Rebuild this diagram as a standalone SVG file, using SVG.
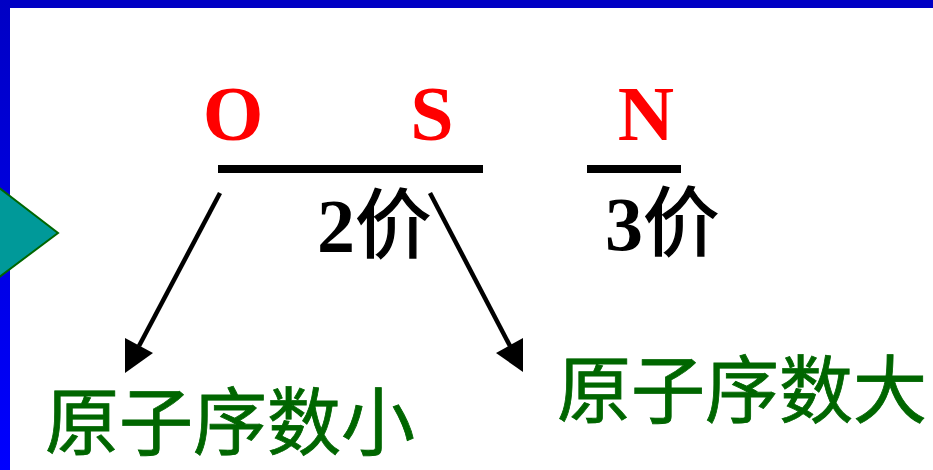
<svg xmlns="http://www.w3.org/2000/svg" width="933" height="470" viewBox="0 0 933 470">
<defs>
<style>
.el{font-family:"Liberation Serif","Times New Roman",serif;font-weight:bold;font-size:78px;fill:#ff0000;text-anchor:middle}
.val{font-family:"Liberation Serif","Noto Sans CJK SC",serif;font-weight:bold;font-size:76px;fill:#000}
.cj{font-family:"Noto Sans CJK SC",sans-serif;font-weight:normal;stroke:#000;stroke-width:1.4}
.lbl{font-family:"Noto Sans CJK SC","Noto Sans",sans-serif;font-weight:normal;font-size:74px;fill:#006600;stroke:#006600;stroke-width:0.8}
.bar{stroke:#000;stroke-width:8}
.arr{stroke:#000;stroke-width:4.5;fill:none}
</style>
<linearGradient id="lb" x1="0" y1="0" x2="0" y2="1">
<stop offset="0" stop-color="#0000c4"/>
<stop offset="1" stop-color="#0000ff"/>
</linearGradient>
</defs>
<rect x="0" y="0" width="933" height="470" fill="#ffffff"/>
<rect x="0" y="0" width="933" height="8" fill="#0000c4"/>
<rect x="0" y="0" width="10" height="470" fill="url(#lb)"/>
<polygon points="-2,187 58,233 -2,278" fill="#009999" stroke="#006600" stroke-width="2"/>
<g id="O"><text class="el" x="233" y="140">O</text></g>
<g id="S"><text class="el" x="432" y="140">S</text></g>
<g id="N"><text class="el" x="646" y="140">N</text></g>
<g id="bar-OS"><line class="bar" x1="218" y1="169" x2="483" y2="169"/></g>
<g id="bar-N"><line class="bar" x1="587" y1="169" x2="681" y2="169"/></g>
<g id="v2"><text class="val" x="317" y="252">2<tspan class="cj">价</tspan></text></g>
<g id="v3"><text class="val" x="605" y="250">3<tspan class="cj">价</tspan></text></g>
<g id="small"><text class="lbl" x="45" y="449">原子序数小</text></g>
<g id="large"><text class="lbl" x="557" y="417">原子序数大</text></g>
<g id="connectors">
<line class="arr" x1="220" y1="193" x2="139" y2="346"/>
<polygon points="125,373 125,338 153,353" fill="#000"/>
<line class="arr" x1="430" y1="193" x2="510" y2="346"/>
<polygon points="523,372 496,353 523,338" fill="#000"/>
</g>
</svg>
